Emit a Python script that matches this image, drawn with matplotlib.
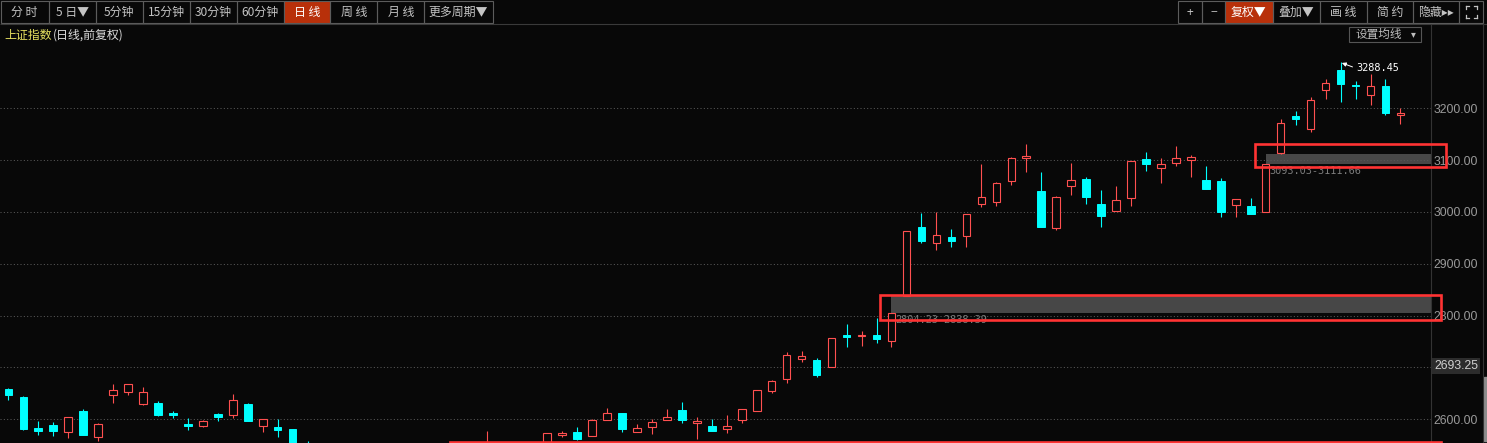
import numpy as np
import matplotlib
matplotlib.use('Agg')
import matplotlib.pyplot as plt
from matplotlib.patches import Rectangle

plt.rcParams['font.family'] = ['Noto Sans CJK SC', 'DejaVu Sans']

nan = np.nan
# 上证指数 日线 OHLC（读图估计，nan = 低于可视范围）
opens = [2658.4, 2643.0, 2583.2, 2589.0, 2576.0, 2616.0, 2566.4, 2647.4, 2653.2, 2629.5,
         2631.4, 2612.7, 2590.9, 2587.6, 2610.2, 2608.8, 2629.5, 2587.6, 2585.1, 2581.2,
         2550.0, nan, nan, nan, nan, nan, nan, nan, nan, nan,
         nan, nan, 2530.0, nan, nan, nan, 2540.0, 2570.2, 2575.5, 2568.3,
         2599.2, 2612.1, 2576.0, 2585.7, 2598.0, 2617.9, 2593.4, 2587.0, 2581.8, 2599.2,
         2615.4, 2655.1, 2677.1, 2716.9, 2714.4, 2701.4, 2762.6, 2761.3, 2762.6, 2750.4,
         2838.39, 2971.0, 2940.7, 2951.7, 2954.2, 3015.9, 3019.8, 3060.3, 3104.7, 3040.4,
         2969.6, 3050.7, 3063.6, 3015.4, 3002.4, 3027.5, 3102.2, 3085.4, 3095.0, 3100.8,
         3061.7, 3059.7, 3012.8, 3011.5, 3000.5, 3113.2, 3185.1, 3160.6, 3234.7, 3273.9,
         3244.4, 3225.1, 3243.0, 3187.1]
highs = [2660.9, 2645.5, 2596.7, 2594.7, 2603.8, 2619.8, 2593.4, 2668.1, 2667.5, 2662.3,
         2634.7, 2616.0, 2602.5, 2598.0, 2612.1, 2648.8, 2631.4, 2600.0, 2600.0, 2581.2,
         2557.5, nan, nan, nan, nan, nan, nan, nan, nan, nan,
         nan, nan, 2577.4, nan, nan, nan, 2572.9, 2577.4, 2585.1, 2600.5,
         2621.8, 2612.1, 2590.9, 2600.0, 2619.8, 2633.3, 2604.4, 2600.0, 2608.3, 2619.2,
         2655.9, 2675.8, 2729.8, 2731.7, 2717.6, 2756.2, 2783.8, 2770.3, 2795.4, 2804.23,
         2963.3, 2998.0, 2999.9, 2967.1, 2995.5, 3092.5, 3057.8, 3106.0, 3131.1, 3077.1,
         3030.8, 3094.5, 3067.5, 3042.4, 3050.1, 3098.3, 3115.7, 3104.7, 3127.3, 3109.9,
         3089.3, 3066.1, 3024.4, 3026.9, 3093.03, 3179.4, 3194.8, 3221.8, 3257.1, 3288.45,
         3252.7, 3266.2, 3256.5, 3200.6]
lows = [2637.8, 2579.3, 2570.2, 2568.3, 2563.9, 2569.7, 2558.7, 2632.0, 2646.8, 2627.5,
        2606.3, 2602.5, 2579.3, 2585.7, 2597.3, 2602.5, 2596.7, 2576.0, 2566.4, 2538.0,
        2530.0, nan, nan, nan, nan, nan, nan, nan, nan, nan,
        nan, nan, 2525.0, nan, nan, nan, 2535.0, 2566.4, 2560.0, 2568.3,
        2599.2, 2576.0, 2576.0, 2571.6, 2598.0, 2593.4, 2562.5, 2578.0, 2574.1, 2593.4,
        2615.4, 2651.3, 2669.4, 2711.1, 2682.1, 2701.4, 2740.0, 2742.0, 2747.8, 2740.0,
        2838.39, 2940.7, 2926.6, 2933.0, 2933.0, 3010.1, 3012.1, 3052.6, 3077.1, 2971.0,
        2965.2, 3032.7, 3015.9, 2971.0, 3002.4, 3012.1, 3079.0, 3056.5, 3089.3, 3068.0,
        3044.9, 2990.9, 2990.9, 2996.6, 3000.5, 3111.66, 3168.4, 3154.3, 3218.5, 3212.7,
        3218.5, 3206.9, 3187.7, 3170.3]
closes = [2646.8, 2581.2, 2577.4, 2577.4, 2603.8, 2569.7, 2590.9, 2655.9, 2667.5, 2652.0,
          2608.3, 2608.3, 2587.6, 2596.1, 2605.0, 2636.6, 2596.7, 2600.0, 2579.9, 2545.0,
          2535.0, nan, nan, nan, nan, nan, nan, nan, nan, nan,
          nan, nan, 2550.0, nan, nan, nan, 2572.9, 2574.1, 2561.9, 2598.0,
          2611.5, 2581.2, 2582.6, 2594.2, 2604.4, 2599.2, 2596.1, 2578.0, 2587.0, 2619.2,
          2655.9, 2673.3, 2723.4, 2721.5, 2686.0, 2756.2, 2759.3, 2762.6, 2755.5, 2804.23,
          2963.3, 2944.5, 2955.0, 2944.5, 2995.5, 3028.3, 3055.3, 3103.5, 3108.0, 2971.0,
          3028.3, 3061.1, 3029.4, 2992.2, 3022.5, 3098.3, 3093.1, 3092.0, 3104.1, 3106.0,
          3044.9, 3000.5, 3024.4, 2996.6, 3092.0, 3171.6, 3179.9, 3216.0, 3248.8, 3247.5,
          3242.4, 3243.0, 3190.9, 3191.5]

# 缺口（K线序号，下沿，上沿）
gap_start = [59, 84]
gap_low = [2804.23, 3093.03]
gap_high = [2838.39, 3111.66]

# 手工画的红框（序号范围，价格范围）
box_x0 = [58.26, 83.3, 29.5]
box_x1 = [95.7, 96.04, 95.7]
box_lo = [2790.6, 3086.7, 2520.0]
box_hi = [2840.7, 3131.7, 2556.2]

price_ticks = [2600, 2700, 2800, 2900, 3000, 3100, 3200]
peak_idx = 89
peak_val = 3288.45
mark_price = 2693.25

period_labels = ['分 时', '5 日▼', '5分钟', '15分钟', '30分钟', '60分钟', '日 线', '周 线', '月 线', '更多周期▼']
period_active = '日 线'
tool_labels = ['+', '−', '复权▼', '叠加▼', '画 线', '简 约', '隐藏▸▸', '']
tool_active = '复权▼'

BG = '#080808'
UP = '#FF5050'
DOWN = '#00FFFF'
BOX = '#FF3333'
ACTIVE = '#B8300A'
W, H = 1487, 443

fig = plt.figure(figsize=(W / 100, H / 100), dpi=100, facecolor=BG)
ax = fig.add_axes([0, 0, 1431 / W, 419 / H], facecolor=BG)
ax.set_xlim(-0.554, 95.04)
ax.set_ylim(2554.2, 3362.65)

o, h, l, c = (np.array(v, dtype=float) for v in (opens, highs, lows, closes))
x = np.arange(len(o))
ok = ~np.isnan(o)
up = ok & (c >= o)
dn = ok & (c < o)
top = np.maximum(o, c)
bot = np.minimum(o, c)

# 阴线：实心青色
ax.vlines(x[dn], l[dn], h[dn], color=DOWN, lw=0.8, zorder=2)
ax.bar(x[dn], o[dn] - c[dn], bottom=c[dn], width=0.5, color=DOWN, edgecolor=DOWN, lw=0.7, zorder=2)
# 阳线：空心红色
ax.vlines(x[up], top[up], h[up], color=UP, lw=0.8, zorder=2)
ax.vlines(x[up], l[up], bot[up], color=UP, lw=0.8, zorder=2)
ax.bar(x[up], c[up] - o[up], bottom=o[up], width=0.5, facecolor=BG, edgecolor=UP, lw=0.8, zorder=2)

# 缺口
xr = ax.get_xlim()[1]
for s, lo, hi in zip(gap_start, gap_low, gap_high):
    ax.barh(lo, xr - s, left=s, height=hi - lo, align='edge', color='#474747', zorder=1.5)
    ax.annotate(f'{lo:.2f}-{hi:.2f}', xy=(s, lo), xytext=(4, -2), textcoords='offset pixels',
                ha='left', va='top', color='#7c7c7c', fontsize=7.4, family='DejaVu Sans Mono', zorder=3)

for x0, x1, lo, hi in zip(box_x0, box_x1, box_lo, box_hi):
    ax.add_patch(Rectangle((x0, lo), x1 - x0, hi - lo, fill=False, edgecolor=BOX, lw=1.9,
                           clip_on=False, zorder=4))

ax.annotate(f'{peak_val:.2f}', xy=(peak_idx, peak_val), xytext=(16, -6), textcoords='offset pixels',
            ha='left', va='center', color='white', fontsize=7.4, family='DejaVu Sans Mono',
            arrowprops=dict(arrowstyle='-|>', color='white', lw=0.7, shrinkA=1, shrinkB=1,
                            mutation_scale=6, relpos=(0, 0.5)))

ax.yaxis.tick_right()
ax.set_yticks(price_ticks)
ax.set_yticklabels([f'{p:.2f}' for p in price_ticks], color='#9a9a9a', fontsize=8.8, family='Liberation Sans')
ax.tick_params(axis='y', length=0, pad=1.7)
ax.set_xticks([])
ax.grid(axis='y', color='#585858', lw=0.75, linestyle=(0, (1, 2.2)))
for side in ['top', 'left', 'bottom']:
    ax.spines[side].set_visible(False)
ax.spines['right'].set_color('#333333')
ax.spines['right'].set_linewidth(0.8)

ax.annotate(f'{mark_price:.2f}', xy=(1, mark_price), xycoords=('axes fraction', 'data'),
            xytext=(3, 5), textcoords='offset pixels', ha='left', va='center',
            color='#d0d0d0', fontsize=8.8, family='Liberation Sans', zorder=5, annotation_clip=False,
            bbox=dict(boxstyle='square,pad=0.15', facecolor='#2c2c2c', edgecolor='none'))

# 顶部工具栏（像素坐标）
ui = fig.add_axes([0, 0, 1, 1])
ui.set_xlim(0, W)
ui.set_ylim(H, 0)
ui.axis('off')
ui.patch.set_alpha(0)

def button(x0, x1, label, active):
    ui.add_patch(Rectangle((x0, 1), x1 - x0, 22, facecolor=ACTIVE if active else 'none',
                           edgecolor='#5c5c5c', lw=0.8))
    ui.text((x0 + x1) / 2, 12.5, label, ha='center', va='center', fontsize=8.6,
            color='white' if active else '#c4c4c4')

left_edges = [0.5, 48.7, 95.7, 142.7, 189.7, 236.7, 283.7, 330.3, 377.3, 424.3, 493]
for i, lab in enumerate(period_labels):
    button(left_edges[i], left_edges[i + 1], lab, lab == period_active)

right_edges = [1178.3, 1201.7, 1225, 1272.7, 1320, 1366.7, 1413.3, 1459.3, 1483.3]
for i, lab in enumerate(tool_labels):
    button(right_edges[i], right_edges[i + 1], lab, lab == tool_active)

# 全屏图标
for cx, cy, dx, dy in [(1466, 6, 1, 1), (1477, 6, -1, 1), (1466, 18, 1, -1), (1477, 18, -1, -1)]:
    ui.plot([cx, cx + 3 * dx], [cy, cy], color='#c4c4c4', lw=0.9)
    ui.plot([cx, cx], [cy, cy + 3 * dy], color='#c4c4c4', lw=0.9)

ui.hlines(24, 0, W, color='#3a3a3a', lw=0.8)
ui.vlines(1483, 24, H, color='#333333', lw=0.8)
ui.add_patch(Rectangle((1483.5, 377), 3.5, 64, color='#8c8c8c'))

ui.text(4, 35, '上证指数', ha='left', va='center', fontsize=8.6, color='#E6E060')
ui.text(53, 35, '(日线,前复权)', ha='left', va='center', fontsize=8.6, color='#dcdcdc')

ui.add_patch(Rectangle((1349.3, 26.7), 71.4, 15, fill=False, edgecolor='#555555', lw=0.8))
ui.text(1355, 34.5, '设置均线', ha='left', va='center', fontsize=8.4, color='#bdbdbd')
ui.text(1413, 34.5, '▾', ha='center', va='center', fontsize=7, color='#bdbdbd')

fig.savefig('out.png', dpi=100, facecolor=BG)
